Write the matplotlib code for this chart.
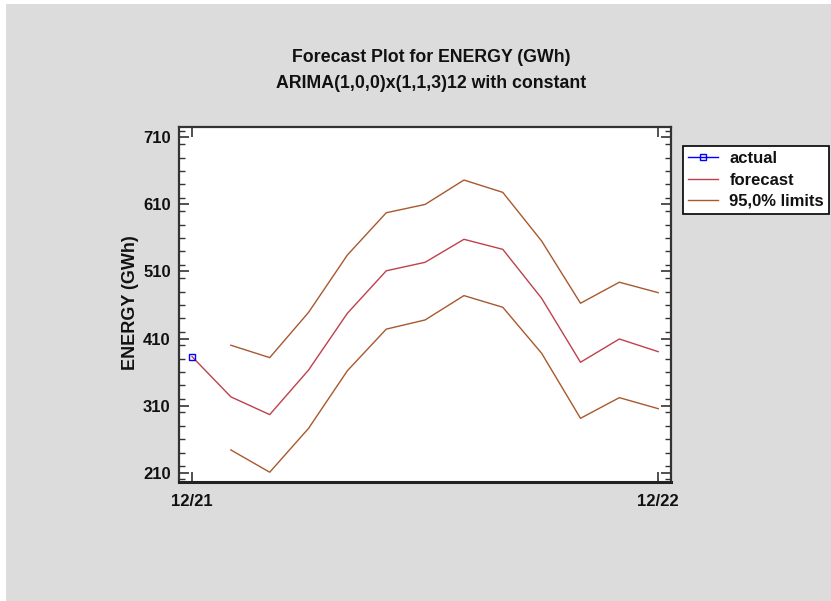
import numpy as np
import matplotlib
matplotlib.use("Agg")
import matplotlib.pyplot as plt
from matplotlib.patches import Rectangle
from matplotlib.ticker import MultipleLocator, FixedLocator

plt.rcParams["font.family"] = ["Liberation Sans", "DejaVu Sans"]

# ── data ─────────────────────────────────────────────────────────────────────
actual_x = [0]
actual_y = [383]

fc_x = [0, 1, 2, 3, 4, 5, 6, 7, 8, 9, 10, 11, 12]
forecast = [383, 323, 296.5, 363, 447.7, 511, 523.7, 558, 543, 470, 374.6, 409.3, 390.4]

lim_x = [1, 2, 3, 4, 5, 6, 7, 8, 9, 10, 11, 12]
upper = [400, 381.5, 449, 534.6, 597.6, 610, 646.4, 628, 555.4, 462.6, 494, 478.4]
lower = [243.8, 210.6, 276, 362, 424, 437.7, 474, 456.6, 388, 291, 321.8, 305.4]

x_ticks = [0, 12]
x_labels = ["12/21", "12/22"]
y_ticks = [210, 310, 410, 510, 610, 710]

BG = "#DCDCDC"
C_ACT = "#0000FF"
C_FC = "#C0404A"
C_LIM = "#A8582E"

fig = plt.figure(figsize=(8.31, 6.01), dpi=100)
fig.patch.set_facecolor("white")
fig.patches.append(Rectangle((6 / 831, 0), 1, 1 - 4 / 601, transform=fig.transFigure,
                             facecolor=BG, edgecolor="none", zorder=-10))

ax = fig.add_axes([179 / 831, 1 - 482 / 601, 492 / 831, 355 / 601])
ax.set_facecolor("white")

ax.plot(fc_x, forecast, color=C_FC, lw=1.0, label="forecast", zorder=3)
ax.plot(lim_x, upper, color=C_LIM, lw=1.0, label="95,0% limits", zorder=3)
ax.plot(lim_x, lower, color=C_LIM, lw=1.0, zorder=3)
ax.plot(actual_x, actual_y, color=C_ACT, lw=1.0, marker="s", ms=5, mfc="none",
        mec=C_ACT, mew=1.0, label="actual", zorder=4)

ax.set_xlim(-0.335, 12.33)
ax.set_ylim(196, 725.5)

ax.xaxis.set_major_locator(FixedLocator(x_ticks))
ax.set_xticklabels(x_labels)
ax.yaxis.set_major_locator(FixedLocator(y_ticks))
ax.yaxis.set_minor_locator(MultipleLocator(20))

ax.tick_params(axis="both", which="both", direction="in", top=True, right=True,
               color="#333333")
ax.tick_params(axis="both", which="major", length=7, width=1.2)
ax.tick_params(axis="y", which="minor", length=4, width=1.0)
ax.tick_params(axis="y", which="major", pad=6)
ax.tick_params(axis="x", which="major", pad=9)
for lab in ax.get_xticklabels() + ax.get_yticklabels():
    lab.set_fontsize(12)
    lab.set_fontweight("bold")
    lab.set_color("#111111")

for side in ["left", "right", "top"]:
    ax.spines[side].set_linewidth(1.6)
    ax.spines[side].set_color("#333333")
ax.spines["bottom"].set_linewidth(2.2)
ax.spines["bottom"].set_color("#222222")

fig.text(0.157, 0.497, "ENERGY (GWh)", rotation=90, ha="center", va="center",
         fontsize=13, fontweight="bold", color="#111111")

fig.text(0.519, 1 - 58 / 601, "Forecast Plot for ENERGY (GWh)", ha="center",
         va="center", fontsize=12.8, fontweight="bold", color="#111111")
fig.text(0.519, 1 - 84 / 601, "ARIMA(1,0,0)x(1,1,3)12 with constant", ha="center",
         va="center", fontsize=12.8, fontweight="bold", color="#111111")

handles, labels = ax.get_legend_handles_labels()
order = [labels.index(k) for k in ["actual", "forecast", "95,0% limits"]]
leg = ax.legend([handles[i] for i in order], [labels[i] for i in order],
                loc="upper left", bbox_to_anchor=(1.024, 0.946), borderaxespad=0,
                frameon=True, fancybox=False, edgecolor="black", framealpha=1,
                fontsize=12, handlelength=1.8, handletextpad=0.7,
                labelspacing=0.38, borderpad=0.3, markerscale=0.8)
leg.get_frame().set_linewidth(1.2)
for t in leg.get_texts():
    t.set_fontweight("bold")
    t.set_color("#111111")

fig.savefig("out.png", dpi=100, facecolor=fig.get_facecolor())
